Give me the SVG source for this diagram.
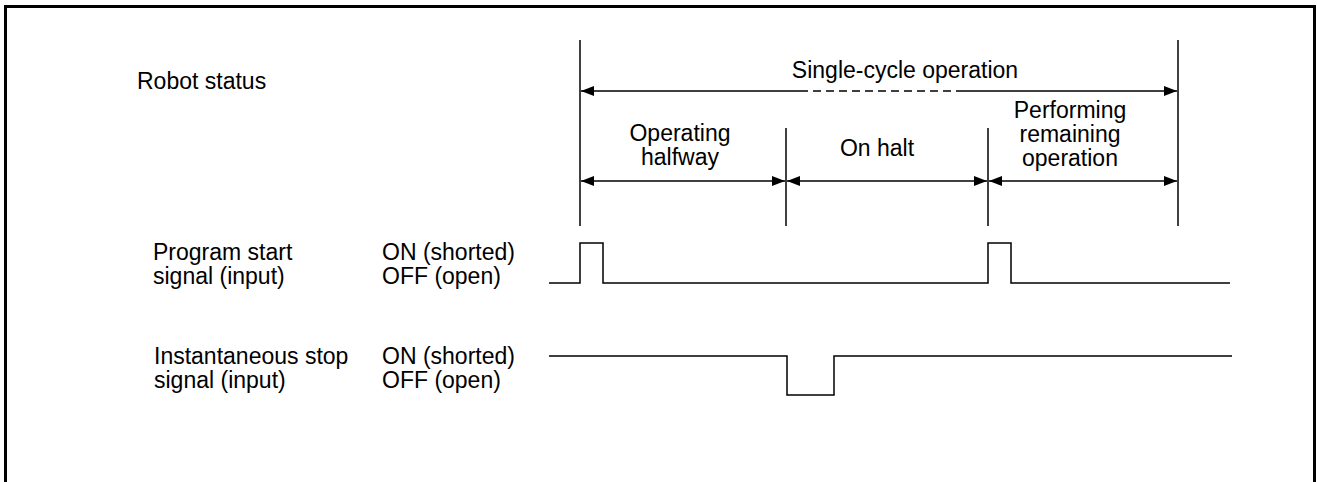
<svg xmlns="http://www.w3.org/2000/svg" width="1317" height="482" viewBox="0 0 1317 482">
<style>
text{font-family:"Liberation Sans",Arial,sans-serif;font-size:23px;fill:#000}
.c{text-anchor:middle}
.ln{stroke:#000;stroke-width:1.5;fill:none}
.ar{stroke:#000;stroke-width:1.5;fill:none;marker-start:url(#ah);marker-end:url(#ah)}
</style>
<defs>
<marker id="ah" viewBox="0 0 13 10" refX="13" refY="5" markerWidth="13" markerHeight="10" markerUnits="userSpaceOnUse" orient="auto-start-reverse">
<path d="M0,0 L13,5 L0,10 Z" fill="#000"/>
</marker>
</defs>
<rect x="5.5" y="6.5" width="1309" height="520" fill="none" stroke="#000" stroke-width="3"/>
<g id="labels">
<text x="137" y="89">Robot status</text>
<text x="153" y="260">Program start</text>
<text x="153" y="284">signal (input)</text>
<text x="382" y="260">ON (shorted)</text>
<text x="382" y="284">OFF (open)</text>
<text x="154" y="364">Instantaneous stop</text>
<text x="154" y="388">signal (input)</text>
<text x="382" y="364">ON (shorted)</text>
<text x="382" y="388">OFF (open)</text>
</g>
<g id="phases">
<text class="c" x="905" y="78">Single-cycle operation</text>
<text class="c" x="680" y="141">Operating</text>
<text class="c" x="680" y="165">halfway</text>
<text class="c" x="877" y="156">On halt</text>
<text class="c" x="1070" y="118">Performing</text>
<text class="c" x="1070" y="142">remaining</text>
<text class="c" x="1070" y="166">operation</text>
</g>
<g id="connectors">
<line class="ln" x1="580" y1="40" x2="580" y2="226"/>
<line class="ln" x1="1178" y1="40" x2="1178" y2="226"/>
<line class="ln" x1="786" y1="128" x2="786" y2="226"/>
<line class="ln" x1="988" y1="128" x2="988" y2="226"/>
<path class="ln" d="M581,91 H800" style="marker-start:url(#ah)"/>
<path class="ln" d="M958,91 H1177" style="marker-end:url(#ah)"/>
<path class="ln" d="M800,91 H958" stroke-dasharray="8,5"/>
<path class="ar" d="M581,181 H785"/>
<path class="ar" d="M787,181 H987"/>
<path class="ar" d="M989,181 H1177"/>
<path class="ln" d="M549,283 H580 V243 H603 V283 H988 V243 H1011 V283 H1230"/>
<path class="ln" d="M549,356 H787 V395 H834 V356 H1232"/>
</g>
</svg>
